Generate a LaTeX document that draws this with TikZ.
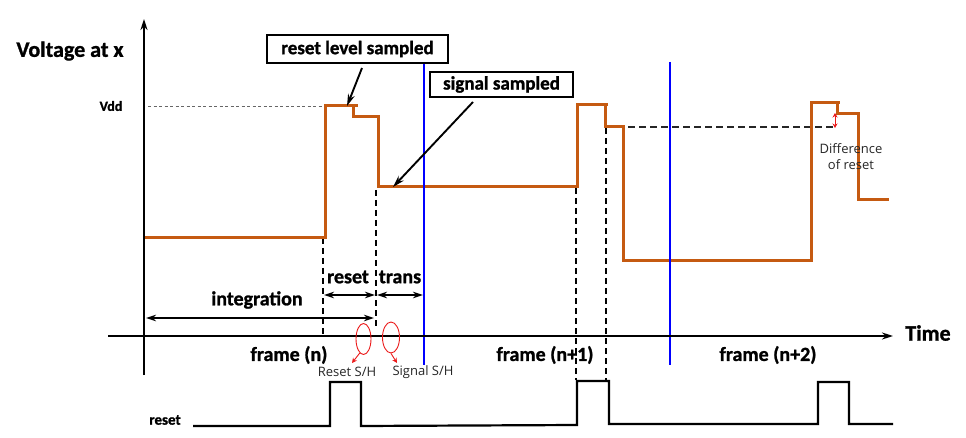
\documentclass[tikz,border=0pt]{standalone}
\usepackage{fontspec}
\setmainfont{Carlito}[BoldFeatures={FakeBold=1.2}]
\newfontfamily\lblfont{Open Sans}
\usetikzlibrary{arrows.meta,shapes.geometric}
\definecolor{wavec}{RGB}{197,90,17}
\definecolor{annred}{RGB}{235,25,25}
\begin{document}
\begin{tikzpicture}[x=1pt,y=-1pt,
  wave/.style={draw=wavec,line width=3pt,line join=miter,line cap=rect},
  axisarr/.style={line width=2.3pt,-{Stealth[length=11pt,width=7pt]}},
  dimarr/.style={line width=1.8pt,{Stealth[length=10pt,width=6.5pt]}-{Stealth[length=10pt,width=6.5pt]}},
  vdash/.style={line width=1.6pt,dash pattern=on 6pt off 4pt},
  blueln/.style={draw=blue,line width=2.3pt},
  bigbold/.style={font=\bfseries\fontsize{20}{20}\selectfont,inner sep=0pt},
  callout/.style={draw,line width=1.9pt,inner sep=0pt,font=\bfseries\fontsize{19}{19}\selectfont},
  calloutarr/.style={line width=1.9pt,-{Stealth[length=12pt,width=7pt]}},
  smalllbl/.style={font=\lblfont\fontsize{13}{16}\selectfont,text=black!85,inner sep=0pt,align=center},
  redarr/.style={draw=annred,line width=0.9pt,-{Stealth[length=5pt,width=5pt]}},
  sh/.style={draw=annred,line width=0.9pt,ellipse,inner sep=0pt},
  resetwave/.style={line width=2.2pt,line join=miter}
]
\useasboundingbox (0,0) rectangle (966,438);

% blue frame boundaries
\coordinate (b1t) at (424,62); \coordinate (b1b) at (424,365);
\coordinate (b2t) at (670,62); \coordinate (b2b) at (670,365);

% Vdd guide
\coordinate (vddl) at (148,106); \coordinate (vddr) at (328,106);
\draw[gray!80!black,line width=0.9pt,dash pattern=on 3pt off 2.5pt] (vddl) -- (vddr);

% dashed verticals
\coordinate (d1t) at (323,238); \coordinate (d1b) at (323,336);
\coordinate (d2t) at (376,190); \coordinate (d2b) at (376,328);
\coordinate (d3t) at (576,188); \coordinate (d3b) at (576,380);
\coordinate (d4t) at (606,128); \coordinate (d4b) at (606,380);
\draw[vdash] (d1t) -- (d1b);
\draw[vdash] (d2t) -- (d2b);
\draw[vdash] (d3t) -- (d3b);
\draw[vdash] (d4t) -- (d4b);

% reset level reference
\coordinate (rl1) at (606,127); \coordinate (rl2) at (836,127);
\draw[black!85,line width=1.6pt,dash pattern=on 7pt off 4pt] (rl1) -- (rl2);

% orange waveform
\draw[wave] (146,238) -- (325,238) -- (325,106) -- (356,106)
  (353,106) -- (353,117) -- (378,117) -- (378,187) -- (577,187)
  -- (577,105) -- (606,105) (605,105) -- (605,127) -- (623,127)
  -- (623,261) -- (811,261) -- (811,103) -- (838,103)
  (837,103) -- (837,114) -- (858,114) -- (858,200) -- (887,200);

% blue lines on top
\draw[blueln] (b1t) -- (b1b);
\draw[blueln] (b2t) -- (b2b);

% axes
\coordinate (yb) at (144,375); \coordinate (yt) at (144,19);
\coordinate (xl) at (108,336); \coordinate (xr) at (893,336);
\draw[axisarr] (yb) -- (yt);
\draw[axisarr] (xl) -- (xr);

\node[bigbold,font=\bfseries\fontsize{22}{22}\selectfont] (vlab) at (70,51) {Voltage at x};
\node[bigbold,font=\bfseries\fontsize{14}{14}\selectfont] (vdd) at (111,106) {Vdd};
\node[bigbold,font=\bfseries\fontsize{22}{22}\selectfont] (tlab) at (928,333) {Time};

% dimension arrows
\coordinate (i1) at (146,318); \coordinate (i2) at (374,318);
\coordinate (r1) at (324,295); \coordinate (r2) at (375,295);
\coordinate (t1) at (377,295); \coordinate (t2) at (423,295);
\draw[dimarr] (i1) -- (i2);
\draw[dimarr] (r1) -- (r2);
\draw[dimarr] (t1) -- (t2);
\node[bigbold] (intl) at (257,300) {integration};
\node[bigbold] (rstl) at (348,277) {reset};
\node[bigbold] (trl) at (400,277) {trans};

% frame labels
\node[bigbold] (f0) at (289,355) {frame (n)};
\node[bigbold] (f1) at (545,355) {frame (n+1)};
\node[bigbold] (f2) at (768,355) {frame (n+2)};

% callouts
\node[callout,minimum width=181pt,minimum height=28pt] (c1) at (357.5,49) {reset level sampled};
\node[callout,minimum width=143pt,minimum height=25pt] (c2) at (501.5,84.5) {signal sampled};
\coordinate (c1s) at (362,68); \coordinate (c1e) at (347,106);
\coordinate (c2s) at (473,102); \coordinate (c2e) at (393,187);
\draw[calloutarr] (c1s) -- (c1e);
\draw[calloutarr] (c2s) -- (c2e);

% S/H markers
\node[sh,minimum width=15pt,minimum height=31pt] (e1) at (363.5,339) {};
\node[sh,minimum width=17pt,minimum height=31pt] (e2) at (391,337.5) {};
\node[smalllbl] (rsh) at (347,372) {Reset S/H};
\node[smalllbl] (ssh) at (423,372) {Signal S/H};
\coordinate (a1) at (352,363); \coordinate (a2) at (397,363);
\draw[redarr] (e1.-105) -- (a1);
\draw[redarr] (e2.-90) -- (a2);

% difference of reset
\coordinate (dr1) at (835,113); \coordinate (dr2) at (835,128);
\draw[draw=annred,line width=1pt,{Stealth[length=4.5pt,width=5pt]}-{Stealth[length=4.5pt,width=5pt]}] (dr1) -- (dr2);
\node[smalllbl] (diff) at (851,157) {Difference\\of reset};

% reset signal
\node[bigbold,font=\bfseries\fontsize{15}{15}\selectfont] (rsig) at (165,420) {reset};
\draw[resetwave] (193,426) -- (330,426) -- (330,382) -- (361,382) -- (361,426)
  -- (577,425) -- (577,381) -- (609,381) -- (609,424) -- (818,424)
  -- (818,382) -- (849,382) -- (849,424) -- (893,424);
\end{tikzpicture}
\end{document}
